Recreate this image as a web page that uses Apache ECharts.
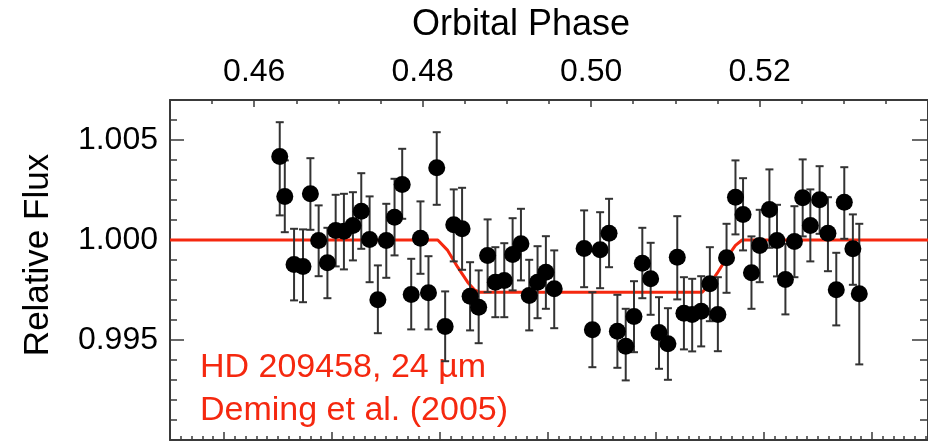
<!DOCTYPE html>
<html>
<head>
<meta charset="utf-8">
<title>HD 209458 secondary eclipse</title>
<script src="https://cdn.jsdelivr.net/npm/echarts@6/dist/echarts.min.js"></script>
<style>
  html, body { margin: 0; padding: 0; background: #fff; }
  #chart { width: 928px; height: 446px; }
</style>
</head>
<body>
<div id="chart"></div>
<script>
// 数据点: 轨道相位 / 相对流量 / 误差棒上下端
var phase = [
  0.46303, 0.46363, 0.46473, 0.46579, 0.46667, 0.46765, 0.46869, 0.46967, 0.47065, 0.47172,
  0.47271, 0.47370, 0.47468, 0.47568, 0.47666, 0.47757, 0.47864, 0.47974, 0.48069, 0.48167,
  0.48267, 0.48369, 0.48468, 0.48563, 0.48665, 0.48771, 0.48863, 0.48969, 0.49068, 0.49167,
  0.49265, 0.49364, 0.49463, 0.49562, 0.49917, 0.50015, 0.50107, 0.50213, 0.50312, 0.50411,
  0.50509, 0.50608, 0.50707, 0.50806, 0.50912, 0.51023, 0.51102, 0.51200, 0.51307, 0.51410,
  0.51505, 0.51608, 0.51714, 0.51804, 0.51904, 0.52002, 0.52117, 0.52207, 0.52307, 0.52414,
  0.52512, 0.52603, 0.52713, 0.52812, 0.52911, 0.53006, 0.53108, 0.53184
]
var flux = [
  1.00418, 1.00218, 0.99878, 0.99868, 1.00231, 0.99998, 0.99886, 1.00048, 1.00044, 1.00073,
  1.00144, 1.00003, 0.99701, 0.99998, 1.00114, 1.00278, 0.99728, 1.00009, 0.99736, 1.00361,
  0.99568, 1.00076, 1.00056, 0.99719, 0.99664, 0.99923, 0.99789, 0.99798, 0.99928, 0.99981,
  0.99723, 0.99789, 0.99839, 0.99756, 0.99958, 0.99551, 0.99951, 1.00034, 0.99544, 0.99469,
  0.99618, 0.99884, 0.99806, 0.99538, 0.99481, 0.99914, 0.99634, 0.99628, 0.99644, 0.99781,
  0.99628, 0.99911, 1.00214, 1.00128, 0.99836, 0.99973, 1.00153, 0.99998, 0.99803, 0.99993,
  1.00211, 1.00073, 1.00201, 1.00034, 0.99751, 1.00189, 0.99956, 0.99731
]
var fluxHi = [
  1.00589, 1.00398, 1.00056, 1.00053, 1.00409, 1.00173, 1.00061, 1.00226, 1.00231, 1.00239,
  1.00334, 1.00218, 0.99873, 1.00181, 1.00306, 1.00456, 0.99906, 1.00193, 0.99919, 1.00539,
  0.99743, 1.00253, 1.00261, 0.99889, 0.99848, 1.00103, 0.99964, 0.99984, 1.00109, 1.00156,
  0.99901, 0.99969, 1.00019, 0.99948, 1.00148, 0.99739, 1.00139, 1.00206, 0.99726, 0.99656,
  0.99794, 1.00061, 0.99986, 0.99714, 0.99659, 1.00119, 0.99814, 0.99806, 0.99819, 0.99964,
  0.99814, 1.00081, 1.00398, 1.00309, 1.00018, 1.00151, 1.00353, 1.00176, 0.99981, 1.00169,
  1.00403, 1.00253, 1.00369, 1.00214, 0.99936, 1.00364, 1.00128, 1.00081
]
var fluxLo = [
  1.00123, 1.00039, 0.99698, 0.99689, 1.00051, 0.99819, 0.99709, 0.99868, 0.99853, 0.99898,
  0.99956, 0.99789, 0.99534, 0.99811, 0.99923, 1.00106, 0.99553, 0.99831, 0.99553, 1.00176,
  0.99394, 0.99893, 0.99851, 0.99548, 0.99484, 0.99739, 0.99614, 0.99614, 0.99748, 0.99798,
  0.99548, 0.99609, 0.99656, 0.99559, 0.99764, 0.99364, 0.99759, 0.99864, 0.99361, 0.99298,
  0.99439, 0.99709, 0.99626, 0.99356, 0.99301, 0.99703, 0.99453, 0.99443, 0.99468, 0.99594,
  0.99444, 0.99736, 1.00028, 0.99948, 0.99656, 0.99789, 0.99961, 0.99818, 0.99628, 0.99814,
  1.00018, 0.99893, 1.00031, 0.99844, 0.99573, 1.00006, 0.99776, 0.99378
]

// 模型曲线 (红线)
var modelPhase = [0.45, 0.48179, 0.48297, 0.48416, 0.48534, 0.48614, 0.48673,
  0.51319, 0.51398, 0.51497, 0.51615, 0.51714, 0.51793, 0.54]
var modelFlux = [1.0, 1.0, 0.99948, 0.99864, 0.99789, 0.99751, 0.99739,
  0.99739, 0.99773, 0.99834, 0.99914, 0.99973, 1.0, 1.0]

// 刻度
var phaseTicks = [0.46, 0.48, 0.50, 0.52]
var fluxTicks = [0.995, 1.000, 1.005]
var bottomTicks = [5, 15, 25, 35, 45, 55, 65]

var AXIS_COLOR = "#3a3a3a"
var RED = "#f5280f"
var FONT = "'Liberation Sans', Arial, sans-serif"

var myChart = echarts.init(document.getElementById("chart"), null, { renderer: "canvas" })

// 主刻度轴
function majorAxis(pos, min, max, ticks, len, showLabel, digits) {
  return {
    type: "value",
    position: pos,
    min: min,
    max: max,
    axisLine: { show: true, onZero: false, lineStyle: { color: AXIS_COLOR, width: 2 } },
    axisTick: { show: true, inside: true, length: len, customValues: ticks,
      lineStyle: { color: AXIS_COLOR, width: 1.5 } },
    axisLabel: {
      show: showLabel,
      customValues: ticks,
      margin: 12,
      fontSize: 32,
      fontFamily: FONT,
      color: "#000",
      formatter: function (v) { return v.toFixed(digits) }
    },
    splitLine: { show: false }
  }
}
// 次刻度轴
function minorAxis(pos, min, max, interval, len) {
  return {
    type: "value",
    position: pos,
    min: min,
    max: max,
    interval: interval,
    axisLine: { show: false, onZero: false },
    axisTick: { show: true, inside: true, length: len, lineStyle: { color: AXIS_COLOR, width: 1.5 } },
    axisLabel: { show: false },
    splitLine: { show: false }
  }
}

var points = phase.map(function (p, i) { return [p, flux[i]] })
var bars = phase.map(function (p, i) { return [p, fluxLo[i], fluxHi[i]] })
var model = modelPhase.map(function (p, i) { return [p, modelFlux[i]] })

var option = {
  animation: false,
  backgroundColor: "#fff",
  grid: { left: 170, top: 100, width: 760, height: 340 },
  xAxis: [
    majorAxis("top", 0.45, 0.54, phaseTicks, 7, true, 2),
    minorAxis("top", 0.45, 0.54, 0.005, 4),
    majorAxis("bottom", 0, 70.2, bottomTicks, 8, false, 0),
    minorAxis("bottom", 0, 70.2, 1, 4)
  ],
  yAxis: [
    majorAxis("left", 0.990, 1.007, fluxTicks, 14, true, 3),
    minorAxis("left", 0.990, 1.007, 0.001, 7),
    majorAxis("right", 0.990, 1.007, fluxTicks, 16, false, 3),
    minorAxis("right", 0.990, 1.007, 0.001, 8)
  ],
  graphic: [
    { type: "text", x: 521, y: 25,
      style: { text: "Orbital Phase", font: "36px " + FONT, fill: "#000", align: "center", verticalAlign: "middle" } },
    { type: "text", x: 38, y: 255, rotation: Math.PI / 2,
      style: { text: "Relative Flux", font: "35px " + FONT, fill: "#000", align: "center", verticalAlign: "middle" } },
    { type: "text", x: 200, y: 368,
      style: { text: "HD 209458, 24 µm", font: "34px " + FONT, fill: RED, align: "left", verticalAlign: "middle" } },
    { type: "text", x: 200, y: 411,
      style: { text: "Deming et al. (2005)", font: "34px " + FONT, fill: RED, align: "left", verticalAlign: "middle" } }
  ],
  series: [
    {
      name: "model",
      type: "line",
      xAxisIndex: 0,
      yAxisIndex: 0,
      data: model,
      showSymbol: false,
      lineStyle: { color: RED, width: 3 },
      z: 2
    },
    {
      name: "error",
      type: "custom",
      xAxisIndex: 0,
      yAxisIndex: 0,
      data: bars,
      encode: { x: 0, y: [1, 2] },
      renderItem: function (params, api) {
        var lo = api.coord([api.value(0), api.value(1)])
        var hi = api.coord([api.value(0), api.value(2)])
        var w = 4
        var st = { stroke: "#333", lineWidth: 2 }
        return {
          type: "group",
          children: [
            { type: "line", shape: { x1: lo[0], y1: lo[1], x2: hi[0], y2: hi[1] }, style: st },
            { type: "line", shape: { x1: lo[0] - w, y1: lo[1], x2: lo[0] + w, y2: lo[1] }, style: st },
            { type: "line", shape: { x1: hi[0] - w, y1: hi[1], x2: hi[0] + w, y2: hi[1] }, style: st }
          ]
        }
      },
      z: 3
    },
    {
      name: "data",
      type: "scatter",
      xAxisIndex: 0,
      yAxisIndex: 0,
      data: points,
      symbol: "circle",
      symbolSize: 17,
      itemStyle: { color: "#000", opacity: 1 },
      z: 4
    }
  ]
}
myChart.setOption(option)
</script>
</body>
</html>
